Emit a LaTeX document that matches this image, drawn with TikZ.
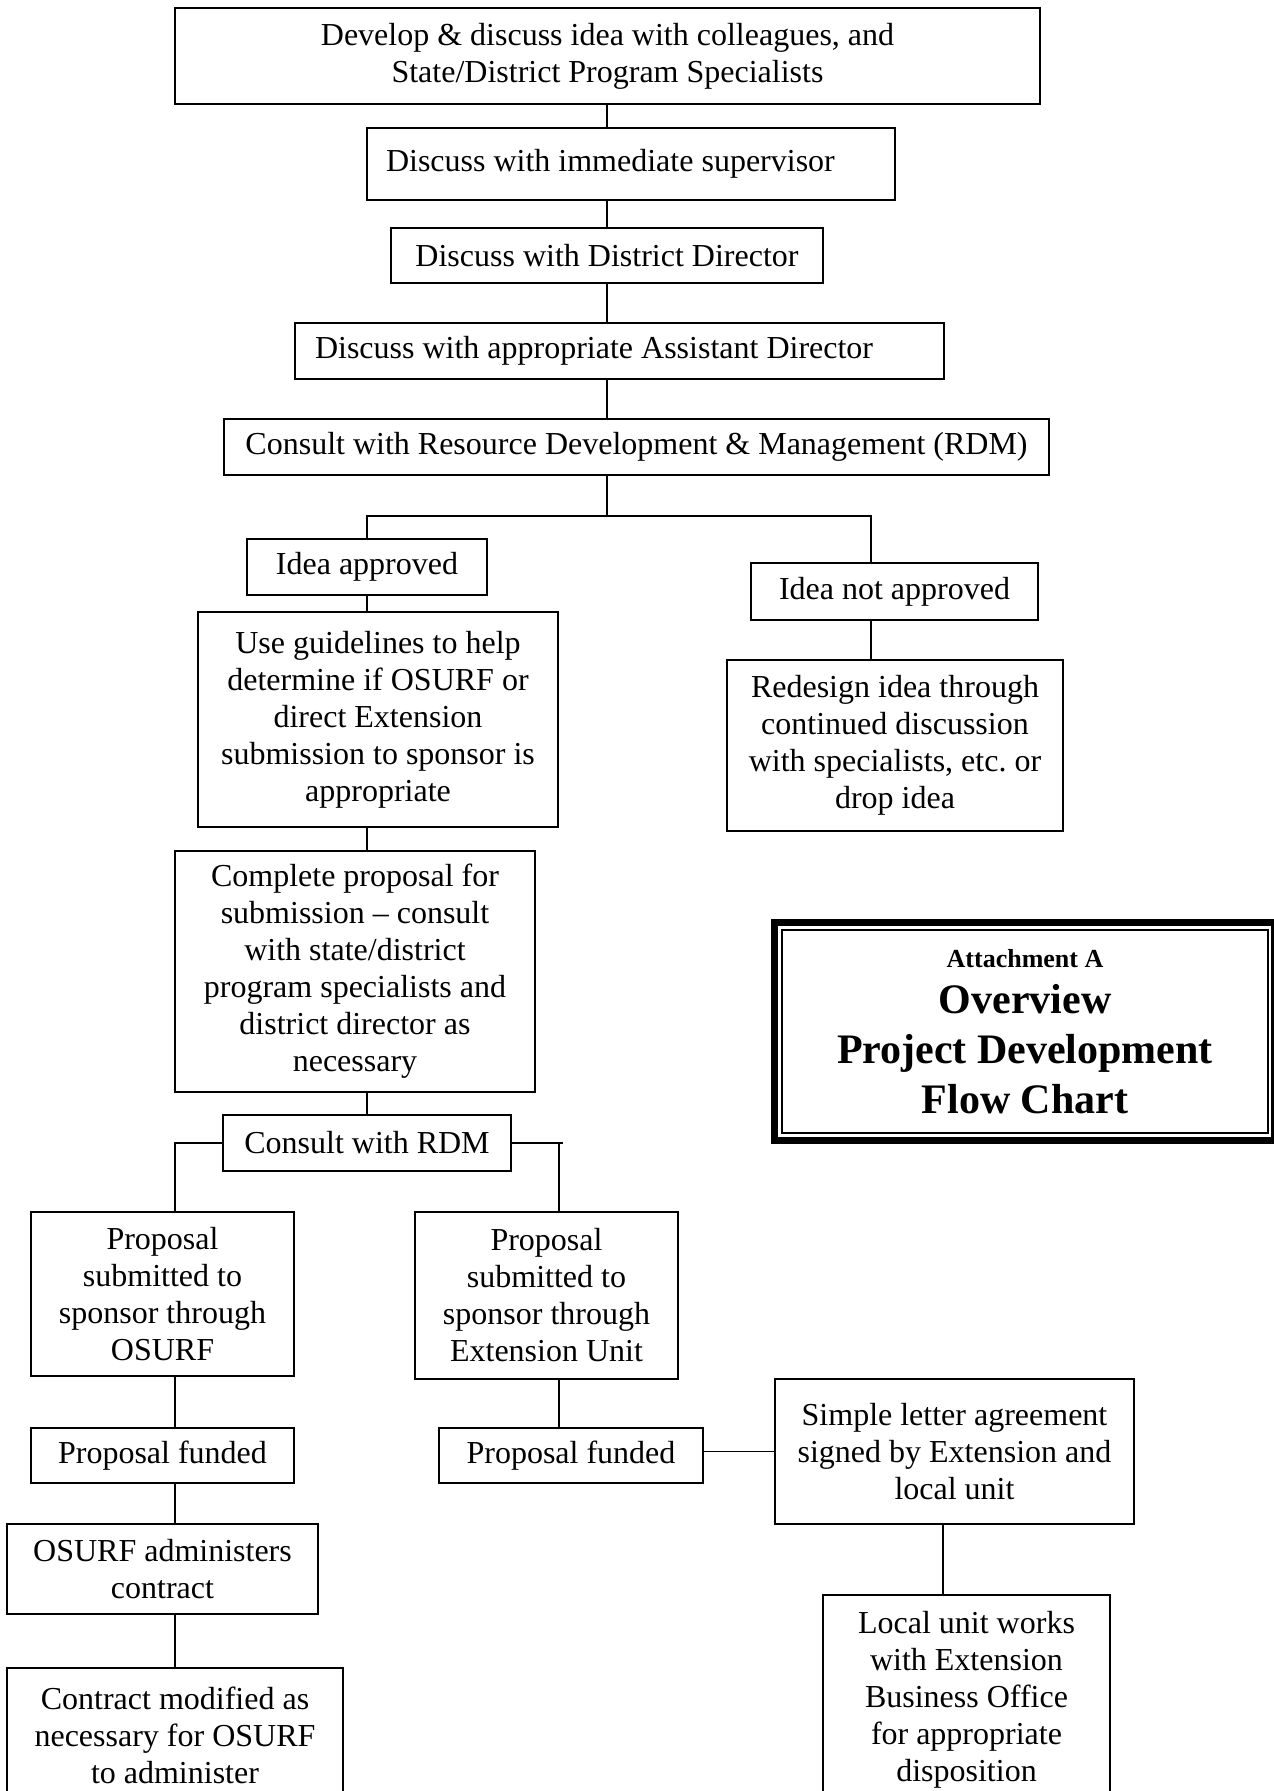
\documentclass[tikz,border=0pt]{standalone}
\usepackage{fontspec}
\setmainfont{Liberation Serif}

\begin{document}
\begin{tikzpicture}
  [x=1pt,y=-1pt,
   every node/.style={draw,line width=1.8pt,align=center,inner sep=0pt,
     font=\fontsize{32}{37}\selectfont}]
  \clip (0,0) rectangle (1274,1791);

  \node (b1) at (607.5,56) [minimum width=865pt,minimum height=96pt]
    {Develop \& discuss idea with colleagues, and\\State/District Program Specialists};
  \node (b2) at (631,164) [minimum width=528pt,minimum height=72pt,text width=490pt,
    align=flush left,inner xsep=19pt] {Discuss with immediate supervisor};
  \node (b3) at (607,255.5) [minimum width=432pt,minimum height=55pt]
    {Discuss with District Director};
  \node (b4) at (619.5,351) [minimum width=649pt,minimum height=56pt,text width=609pt,
    align=flush left,inner xsep=20pt] {Discuss with appropriate Assistant Director};
  \node (b5) at (636.5,447) [minimum width=825pt,minimum height=56pt]
    {Consult with Resource Development \& Management (RDM)};

  \node (ok) at (367,567) [minimum width=240pt,minimum height=56pt] {Idea approved};
  \node (nok) at (894.5,591.5) [minimum width=287pt,minimum height=57pt] {Idea not approved};
  \node (guide) at (378,719.5) [minimum width=360pt,minimum height=215pt]
    {Use guidelines to help\\determine if OSURF or\\direct Extension\\submission to sponsor is\\appropriate};
  \node (redesign) at (895,745.5) [minimum width=336pt,minimum height=171pt]
    {Redesign idea through\\continued discussion\\with specialists, etc.\ or\\drop idea};
  \node (complete) at (355,971.5) [minimum width=360pt,minimum height=241pt]
    {Complete proposal for\\submission -- consult\\with state/district\\program specialists and\\district director as\\necessary};
  \node (rdm) at (367,1143) [minimum width=288pt,minimum height=56pt] {Consult with RDM};

  \node (viaosurf) at (162.5,1294) [minimum width=263pt,minimum height=164pt]
    {Proposal\\submitted to\\sponsor through\\OSURF};
  \node (viaext) at (546.5,1295.5) [minimum width=263pt,minimum height=167pt]
    {Proposal\\submitted to\\sponsor through\\Extension Unit};
  \node (fundl) at (162.5,1455.5) [minimum width=263pt,minimum height=55pt] {Proposal funded};
  \node (fundr) at (571,1455.5) [minimum width=264pt,minimum height=55pt] {Proposal funded};
  \node (letter) at (954.5,1451.5) [minimum width=359pt,minimum height=145pt]
    {Simple letter agreement\\signed by Extension and\\local unit};
  \node (admin) at (162.5,1569) [minimum width=311pt,minimum height=90pt]
    {OSURF administers\\contract};
  \node (local) at (966.5,1700) [minimum width=287pt,minimum height=210pt]
    {Local unit works\\with Extension\\Business Office\\for appropriate\\disposition};
  \node (contract) at (175,1735) [minimum width=336pt,minimum height=134pt]
    {Contract modified as\\necessary for OSURF\\to administer};

  % title box with thick-thin frame
  \node (title) at (1025,1031.5) [minimum width=486pt,minimum height=203pt,line width=1.3pt,
    font=\fontsize{42}{50}\selectfont\bfseries]
    {{\fontsize{26}{30}\selectfont Attachment A}\\[-4pt]Overview\\Project Development\\Flow Chart};
  \draw[line width=6.6pt] ([shift={(-6.6pt,6.6pt)}]title.north west)
    rectangle ([shift={(6pt,-7pt)}]title.south east);

  % connector columns
  \coordinate (spine) at (607,516);
  \coordinate (okcol) at (367,0);
  \coordinate (nokcol) at (871,0);
  \coordinate (osurfcol) at (175,0);
  \coordinate (extcol) at (559,0);
  \coordinate (localcol) at (943,0);

  \foreach \from/\to in {b1/b2, b2/b3, b3/b4, b4/b5}
    \draw[line width=1.8pt] (spine |- \from.south) -- (spine |- \to.north);
  \draw[line width=1.8pt] (spine |- b5.south) -- (spine);
  \draw[line width=1.8pt] (ok.north) |- (spine) -| (nokcol |- nok.north);
  \draw[line width=1.8pt] (okcol |- ok.south) -- (okcol |- guide.north);
  \draw[line width=1.8pt] (nokcol |- nok.south) -- (nokcol |- redesign.north);
  \draw[line width=1.8pt] (okcol |- guide.south) -- (okcol |- complete.north);
  \draw[line width=1.8pt] (okcol |- complete.south) -- (rdm.north);
  \draw[line width=1.8pt] (rdm.west) -| (osurfcol |- viaosurf.north);
  \draw[line width=1.8pt] (rdm.east) -- ([xshift=4pt]extcol |- rdm.east);
  \draw[line width=1.8pt] (extcol |- rdm.east) -- (extcol |- viaext.north);

  \foreach \from/\to in {viaosurf/fundl, fundl/admin, admin/contract}
    \draw[line width=1.8pt] (osurfcol |- \from.south) -- (osurfcol |- \to.north);
  \draw[line width=1.8pt] (extcol |- viaext.south) -- (extcol |- fundr.north);
  \draw[line width=1.8pt] (fundr.east |- letter.west) -- (letter.west);
  \draw[line width=1.8pt] (localcol |- letter.south) -- (localcol |- local.north);
\end{tikzpicture}
\end{document}
